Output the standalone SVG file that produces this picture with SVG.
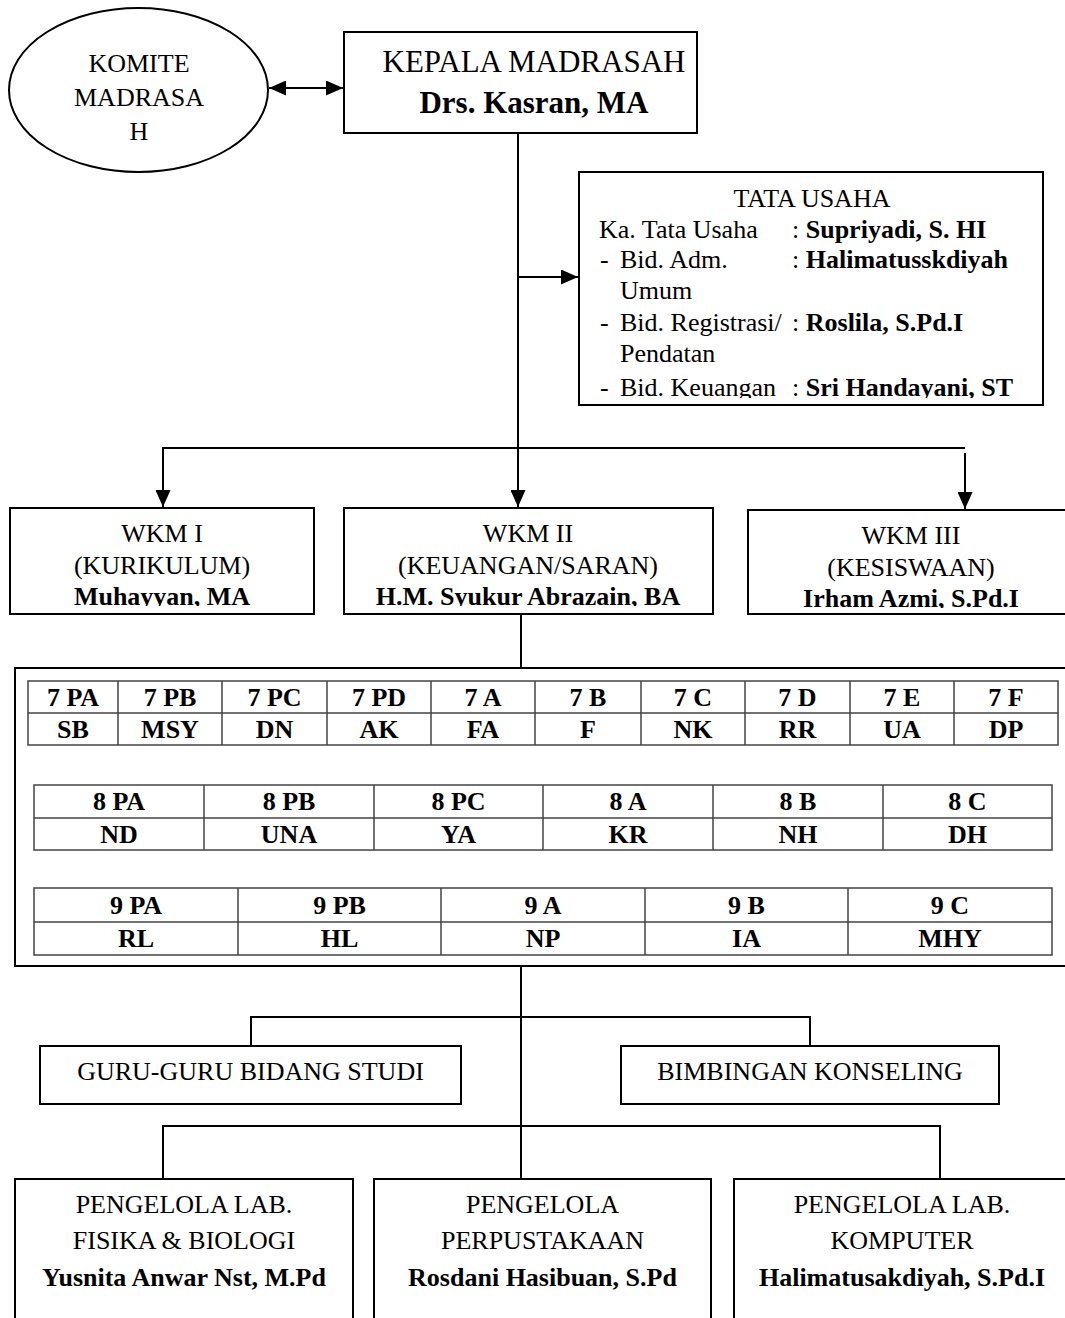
<svg xmlns="http://www.w3.org/2000/svg" width="1065" height="1318" viewBox="0 0 1065 1318">
<style>
text{font-family:"Liberation Serif","Times New Roman",serif;font-size:26px;fill:#000}
.c{text-anchor:middle}
.b{font-weight:bold}
.box{fill:#fff;stroke:#000;stroke-width:2}
.ln{fill:none;stroke:#000;stroke-width:2}
.tb{fill:none;stroke:#444;stroke-width:1.5}
</style>
<defs>
<marker id="ah" viewBox="0 0 17 15" refX="17" refY="7.5" markerWidth="17" markerHeight="15" markerUnits="userSpaceOnUse" orient="auto-start-reverse">
<path d="M0,0 L17,7.5 L0,15 Z" fill="#000"/>
</marker>
<clipPath id="cTU"><rect x="580" y="172" width="462" height="226"/></clipPath>
<clipPath id="cW1"><rect x="11" y="509" width="302" height="97"/></clipPath>
<clipPath id="cW2"><rect x="345" y="509" width="367" height="97"/></clipPath>
<clipPath id="cW3"><rect x="749" y="511" width="316" height="97"/></clipPath>
</defs>

<g id="connectors">
<line class="ln" x1="269" y1="88" x2="343" y2="88" marker-start="url(#ah)" marker-end="url(#ah)"/>
<line class="ln" x1="518" y1="133" x2="518" y2="507" marker-end="url(#ah)"/>
<line class="ln" x1="518" y1="277" x2="578" y2="277" marker-end="url(#ah)"/>
<polyline class="ln" points="163,490 163,448 965,448"/>
<line class="ln" x1="163" y1="480" x2="163" y2="507" marker-end="url(#ah)"/>
<line class="ln" x1="965" y1="453" x2="965" y2="509" marker-end="url(#ah)"/>
<line class="ln" x1="521" y1="614" x2="521" y2="668"/>
<line class="ln" x1="521" y1="966" x2="521" y2="1179"/>
<polyline class="ln" points="251,1046 251,1017 810,1017 810,1046"/>
<polyline class="ln" points="163,1179 163,1126 940,1126 940,1179"/>
</g>

<g id="komite">
<ellipse class="box" cx="138.5" cy="90" rx="129.5" ry="82"/>
<text class="c" x="139" y="72">KOMITE</text>
<text class="c" x="139" y="106">MADRASA</text>
<text class="c" x="139" y="140">H</text>
</g>

<g id="kepala">
<rect class="box" x="344" y="32" width="353" height="101"/>
<text class="c" x="534" y="72" style="font-size:31px">KEPALA MADRASAH</text>
<text class="c b" x="534" y="113" style="font-size:31px">Drs. Kasran, MA</text>
</g>

<g id="tata-usaha">
<rect class="box" x="579" y="172" width="464" height="233"/>
<g clip-path="url(#cTU)">
<text class="c" x="812" y="207">TATA USAHA</text>
<text x="599" y="238">Ka. Tata Usaha</text>
<text x="792" y="238">: <tspan class="b">Supriyadi, S. HI</tspan></text>
<text x="600" y="268">-</text><text x="620" y="268">Bid. Adm.</text>
<text x="792" y="268">: <tspan class="b">Halimatusskdiyah</tspan></text>
<text x="620" y="299">Umum</text>
<text x="600" y="331">-</text><text x="620" y="331">Bid. Registrasi/</text>
<text x="792" y="331">: <tspan class="b">Roslila, S.Pd.I</tspan></text>
<text x="620" y="362">Pendatan</text>
<text x="600" y="396">-</text><text x="620" y="396">Bid. Keuangan</text>
<text x="792" y="396">: <tspan class="b">Sri Handayani, ST</tspan></text>
</g>
</g>

<g id="wkm1">
<rect class="box" x="10" y="508" width="304" height="106"/>
<text class="c" x="162" y="542">WKM I</text>
<text class="c" x="162" y="574">(KURIKULUM)</text>
<text class="c b" x="162" y="605" clip-path="url(#cW1)">Muhayyan, MA</text>
</g>

<g id="wkm2">
<rect class="box" x="344" y="508" width="369" height="106"/>
<text class="c" x="528" y="542">WKM II</text>
<text class="c" x="528" y="574">(KEUANGAN/SARAN)</text>
<text class="c b" x="528" y="605" clip-path="url(#cW2)">H.M. Syukur Abrazain, BA</text>
</g>

<g id="wkm3">
<rect class="box" x="748" y="510" width="330" height="104"/>
<text class="c" x="911" y="544">WKM III</text>
<text class="c" x="911" y="576">(KESISWAAN)</text>
<text class="c b" x="911" y="607" clip-path="url(#cW3)">Irham Azmi, S.Pd.I</text>
</g>

<g id="kelas">
<rect class="box" x="15" y="668" width="1060" height="298"/>
<g id="tabel7">
<rect class="tb" x="28" y="681" width="1030" height="64"/>
<line class="tb" x1="28" y1="713" x2="1058" y2="713"/>
<path class="tb" d="M118,681V745M222,681V745M327,681V745M431,681V745M535,681V745M641,681V745M745,681V745M850,681V745M954,681V745"/>
<text class="c b" x="73" y="706">7 PA</text><text class="c b" x="170" y="706">7 PB</text><text class="c b" x="274.5" y="706">7 PC</text><text class="c b" x="379" y="706">7 PD</text><text class="c b" x="483" y="706">7 A</text><text class="c b" x="588" y="706">7 B</text><text class="c b" x="693" y="706">7 C</text><text class="c b" x="797.5" y="706">7 D</text><text class="c b" x="902" y="706">7 E</text><text class="c b" x="1006" y="706">7 F</text>
<text class="c b" x="73" y="738">SB</text><text class="c b" x="170" y="738">MSY</text><text class="c b" x="274.5" y="738">DN</text><text class="c b" x="379" y="738">AK</text><text class="c b" x="483" y="738">FA</text><text class="c b" x="588" y="738">F</text><text class="c b" x="693" y="738">NK</text><text class="c b" x="797.5" y="738">RR</text><text class="c b" x="902" y="738">UA</text><text class="c b" x="1006" y="738">DP</text>
</g>
<g id="tabel8">
<rect class="tb" x="34" y="785" width="1018" height="65"/>
<line class="tb" x1="34" y1="818" x2="1052" y2="818"/>
<path class="tb" d="M204,785V850M374,785V850M543,785V850M713,785V850M883,785V850"/>
<text class="c b" x="119" y="810">8 PA</text><text class="c b" x="289" y="810">8 PB</text><text class="c b" x="458.5" y="810">8 PC</text><text class="c b" x="628" y="810">8 A</text><text class="c b" x="798" y="810">8 B</text><text class="c b" x="967.5" y="810">8 C</text>
<text class="c b" x="119" y="843">ND</text><text class="c b" x="289" y="843">UNA</text><text class="c b" x="458.5" y="843">YA</text><text class="c b" x="628" y="843">KR</text><text class="c b" x="798" y="843">NH</text><text class="c b" x="967.5" y="843">DH</text>
</g>
<g id="tabel9">
<rect class="tb" x="34" y="888" width="1018" height="67"/>
<line class="tb" x1="34" y1="922" x2="1052" y2="922"/>
<path class="tb" d="M238,888V955M441,888V955M645,888V955M848,888V955"/>
<text class="c b" x="136" y="914">9 PA</text><text class="c b" x="339.5" y="914">9 PB</text><text class="c b" x="543" y="914">9 A</text><text class="c b" x="746.5" y="914">9 B</text><text class="c b" x="950" y="914">9 C</text>
<text class="c b" x="136" y="947">RL</text><text class="c b" x="339.5" y="947">HL</text><text class="c b" x="543" y="947">NP</text><text class="c b" x="746.5" y="947">IA</text><text class="c b" x="950" y="947">MHY</text>
</g>
</g>

<g id="guru">
<rect class="box" x="40" y="1046" width="421" height="58"/>
<text class="c" x="250.5" y="1080">GURU-GURU BIDANG STUDI</text>
</g>

<g id="bk">
<rect class="box" x="621" y="1046" width="378" height="58"/>
<text class="c" x="810" y="1080">BIMBINGAN KONSELING</text>
</g>

<g id="lab-fisika">
<rect class="box" x="15" y="1179" width="338" height="150"/>
<text class="c" x="184" y="1213">PENGELOLA LAB.</text>
<text class="c" x="184" y="1249">FISIKA &amp; BIOLOGI</text>
<text class="c b" x="184" y="1286">Yusnita Anwar Nst, M.Pd</text>
</g>

<g id="perpustakaan">
<rect class="box" x="374" y="1179" width="337" height="150"/>
<text class="c" x="542.5" y="1213">PENGELOLA</text>
<text class="c" x="542.5" y="1249">PERPUSTAKAAN</text>
<text class="c b" x="542.5" y="1286">Rosdani Hasibuan, S.Pd</text>
</g>

<g id="lab-komputer">
<rect class="box" x="734" y="1179" width="345" height="150"/>
<text class="c" x="902" y="1213">PENGELOLA LAB.</text>
<text class="c" x="902" y="1249">KOMPUTER</text>
<text class="c b" x="902" y="1286">Halimatusakdiyah, S.Pd.I</text>
</g>
</svg>
